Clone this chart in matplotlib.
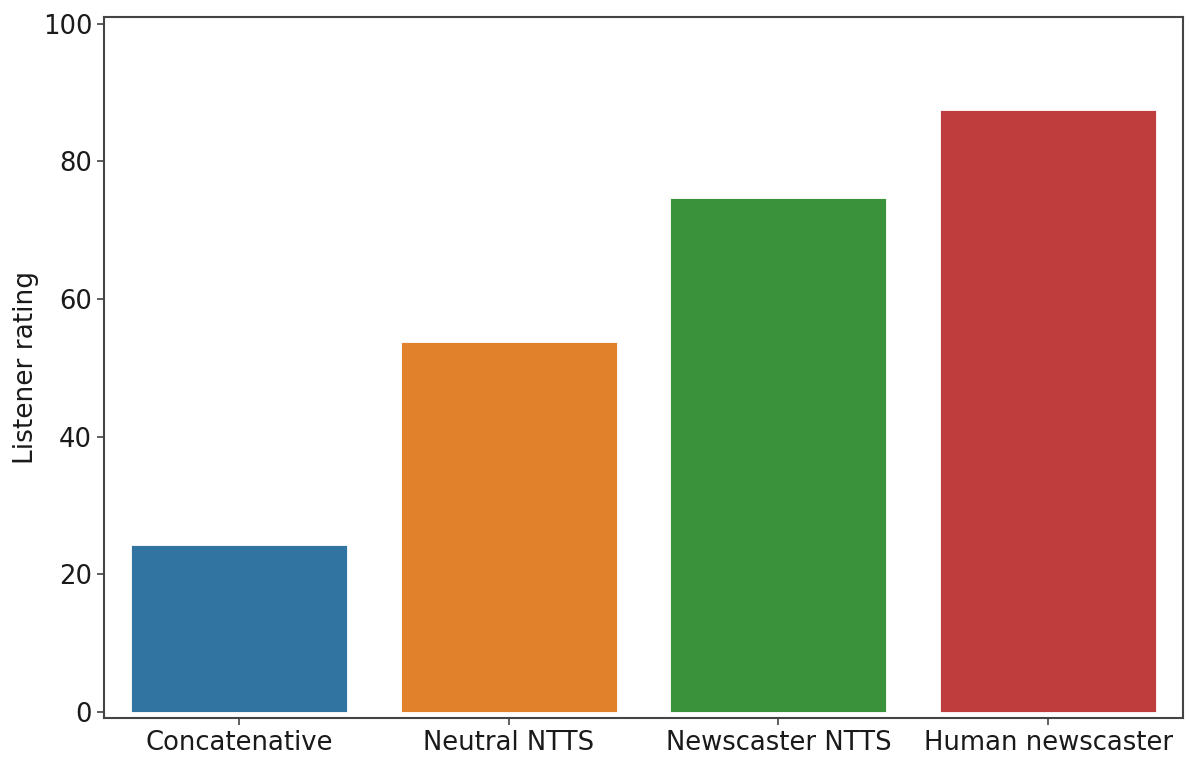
import matplotlib
matplotlib.use("Agg")
import matplotlib.pyplot as plt

categories = ["Concatenative", "Neutral NTTS", "Newscaster NTTS", "Human newscaster"]
ratings = [24.3, 53.8, 74.7, 87.4]
colors = ["#3274a1", "#e1812c", "#3a923a", "#c03d3e"]
yticks = [0, 20, 40, 60, 80, 100]

fig = plt.figure(figsize=(12, 7.65), dpi=100)
ax = fig.add_axes([104/1200, 1 - 718.3/765, (1183-104)/1200, (718.3-16.7)/765])
x = range(len(categories))
ax.bar(x, ratings, width=0.8, color=colors, edgecolor="white", linewidth=0.6)
ax.set_xlim(-0.5, len(categories) - 0.5)
ax.set_ylim(-0.9, 101.0)
ax.set_xticks(list(x))
ax.set_xticklabels(categories)
ax.set_yticks(yticks)
ax.tick_params(labelsize=18.6, colors="#1a1a1a", length=5, width=1.2)
ax.tick_params(axis="both", color="#444444")
for s in ax.spines.values():
    s.set_color("#444444")
    s.set_linewidth(1.5)
ax.set_ylabel("Listener rating", fontsize=19, color="#1a1a1a", labelpad=3)
fig.savefig("out.png", dpi=100)
